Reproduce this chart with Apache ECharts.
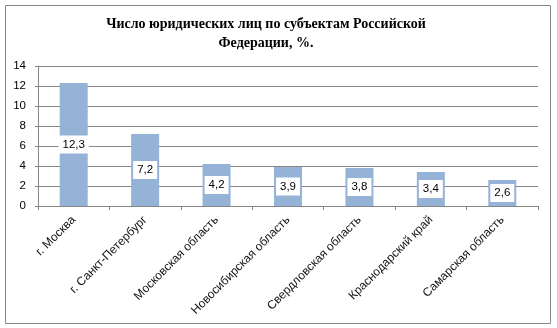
<!DOCTYPE html>
<html>
<head>
<meta charset="utf-8">
<script src="https://cdn.jsdelivr.net/npm/echarts@6/dist/echarts.min.js"></script>
<style>
  html, body { margin: 0; padding: 0; background: #fff; }
  #chart { width: 557px; height: 328px; }
</style>
</head>
<body>
<div id="chart"></div>
<script>
const regions = [
  'г. Москва',
  'г. Санкт-Петербург',
  'Московская область',
  'Новосибирская область',
  'Свердловская область',
  'Краснодарский край',
  'Самарская область'
];
const shares = [12.3, 7.2, 4.2, 3.9, 3.8, 3.4, 2.6];
const yMin = 0;
const yMax = 14;
const yStep = 2;

const chart = echarts.init(document.getElementById('chart'));

const option = {
  backgroundColor: '#fff',
  animation: false,
  title: {
    text: 'Число юридических лиц по субъектам Российской\nФедерации, %.',
    left: 261,
    textAlign: 'center',
    top: 10,
    textStyle: {
      fontFamily: '"Liberation Serif", "DejaVu Serif", serif',
      fontWeight: 'bold',
      fontSize: 14,
      lineHeight: 19,
      color: '#000'
    }
  },
  graphic: [
    {
      type: 'rect',
      shape: { x: 5.5, y: 5.5, width: 545, height: 318 },
      style: { fill: 'none', stroke: '#868686', lineWidth: 1 },
      silent: true
    }
  ],
  grid: {
    left: 38,
    right: 19,
    top: 66,
    bottom: 122
  },
  xAxis: {
    type: 'category',
    data: regions,
    axisLine: { lineStyle: { color: '#868686', width: 1 } },
    axisTick: { show: true, length: 4, interval: 0, lineStyle: { color: '#868686' } },
    axisLabel: {
      interval: 0,
      rotate: 45,
      margin: 12,
      fontFamily: '"Liberation Sans", Arial, sans-serif',
      fontSize: 12,
      color: '#111'
    }
  },
  yAxis: {
    type: 'value',
    min: yMin,
    max: yMax,
    interval: yStep,
    axisLine: { show: true, lineStyle: { color: '#868686', width: 1 } },
    axisTick: { show: true, length: 3, lineStyle: { color: '#868686' } },
    splitLine: { lineStyle: { color: '#868686', width: 1 } },
    axisLabel: {
      margin: 12,
      fontFamily: '"Liberation Sans", Arial, sans-serif',
      fontSize: 11.5,
      color: '#000'
    }
  },
  series: [
    {
      type: 'bar',
      data: shares,
      barWidth: 28,
      itemStyle: { color: '#95B3D7' },
      label: {
        show: true,
        position: 'inside',
        formatter: p => String(p.value).replace('.', ','),
        fontFamily: '"Liberation Sans", Arial, sans-serif',
        fontSize: 11.5,
        color: '#000',
        backgroundColor: '#fff',
        padding: [3, 4]
      }
    }
  ]
};

chart.setOption(option);
</script>
</body>
</html>
